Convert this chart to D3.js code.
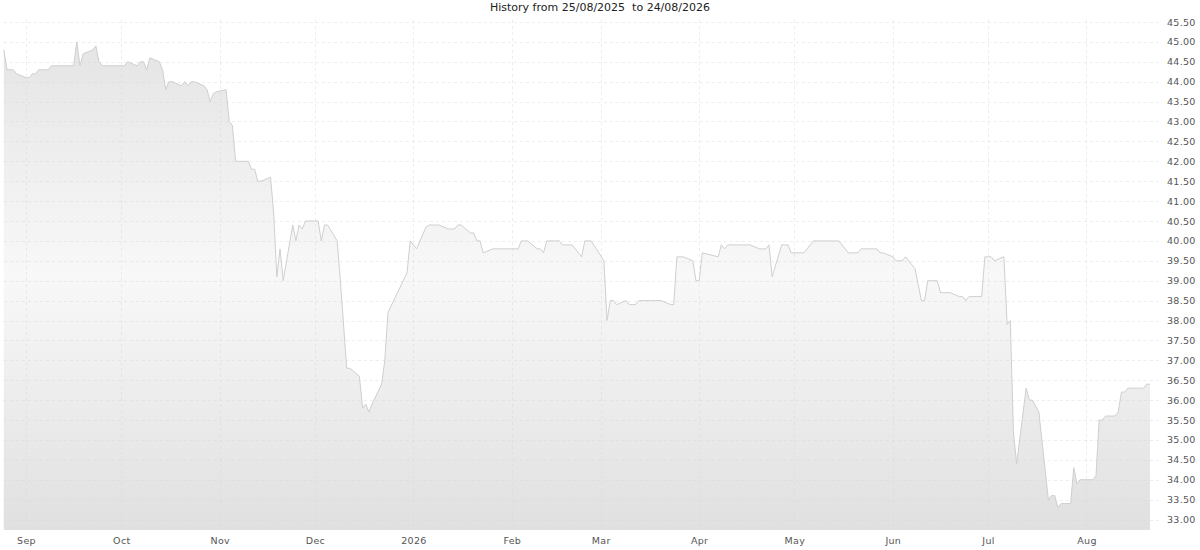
<!DOCTYPE html>
<html>
<head>
<meta charset="utf-8">
<script src="https://cdn.jsdelivr.net/npm/d3@7"></script>
<style>
  html, body { margin: 0; padding: 0; background: #fff; }
  svg { display: block; }
  text { font-family: "DejaVu Sans", Verdana, sans-serif; }
</style>
</head>
<body>
<svg id="chart" width="1200" height="550"></svg>
<script>
const titleText = "History from 25/08/2025  to 24/08/2026";
const domainStart = "2025-08-25";
const domainEnd = "2026-08-24";

const dates = [
  "2025-08-25","2025-08-26","2025-08-27","2025-08-28","2025-08-29",
  "2025-09-01","2025-09-02","2025-09-03","2025-09-04","2025-09-05",
  "2025-09-08","2025-09-09","2025-09-10","2025-09-11","2025-09-12",
  "2025-09-15","2025-09-16","2025-09-17","2025-09-18","2025-09-19",
  "2025-09-22","2025-09-23","2025-09-24","2025-09-25","2025-09-26",
  "2025-09-29","2025-09-30","2025-10-01","2025-10-02","2025-10-03",
  "2025-10-06","2025-10-07","2025-10-08","2025-10-09","2025-10-10",
  "2025-10-13","2025-10-14","2025-10-15","2025-10-16","2025-10-17",
  "2025-10-20","2025-10-21","2025-10-22","2025-10-23","2025-10-24",
  "2025-10-27","2025-10-28","2025-10-29","2025-10-30","2025-10-31",
  "2025-11-03","2025-11-04","2025-11-05","2025-11-06","2025-11-07",
  "2025-11-10","2025-11-11","2025-11-12","2025-11-13","2025-11-14",
  "2025-11-17","2025-11-18","2025-11-19","2025-11-20","2025-11-21",
  "2025-11-24","2025-11-25","2025-11-26","2025-11-27","2025-11-28",
  "2025-12-01","2025-12-02","2025-12-03","2025-12-04","2025-12-05",
  "2025-12-08","2025-12-09","2025-12-11","2025-12-12",
  "2025-12-15","2025-12-16","2025-12-17","2025-12-18","2025-12-19",
  "2025-12-22","2025-12-23","2025-12-24","2025-12-30","2025-12-31",
  "2026-01-02","2026-01-05","2026-01-06","2026-01-07","2026-01-08","2026-01-09",
  "2026-01-12","2026-01-13","2026-01-14","2026-01-15","2026-01-16",
  "2026-01-19","2026-01-20","2026-01-21","2026-01-22","2026-01-23",
  "2026-01-26","2026-01-27","2026-01-28","2026-01-29","2026-01-30",
  "2026-02-02","2026-02-03","2026-02-04","2026-02-05","2026-02-06",
  "2026-02-09","2026-02-10","2026-02-11","2026-02-12","2026-02-13",
  "2026-02-16","2026-02-17","2026-02-18","2026-02-19","2026-02-20",
  "2026-02-23","2026-02-24","2026-02-25","2026-02-26",
  "2026-03-02","2026-03-03","2026-03-04","2026-03-05","2026-03-06",
  "2026-03-09","2026-03-10","2026-03-11","2026-03-12","2026-03-13",
  "2026-03-16","2026-03-17","2026-03-18","2026-03-19","2026-03-20",
  "2026-03-23","2026-03-24","2026-03-25","2026-03-26","2026-03-27",
  "2026-03-30","2026-03-31","2026-04-01","2026-04-02",
  "2026-04-07","2026-04-08","2026-04-09","2026-04-10",
  "2026-04-13","2026-04-14","2026-04-15","2026-04-16","2026-04-17",
  "2026-04-20","2026-04-21","2026-04-22","2026-04-23","2026-04-24",
  "2026-04-27","2026-04-28","2026-04-29","2026-04-30",
  "2026-05-04","2026-05-07","2026-05-08",
  "2026-05-11","2026-05-12","2026-05-13","2026-05-14","2026-05-15",
  "2026-05-18","2026-05-19","2026-05-20","2026-05-21","2026-05-22",
  "2026-05-25","2026-05-26","2026-05-27","2026-05-28","2026-05-29",
  "2026-06-01","2026-06-02","2026-06-03","2026-06-04","2026-06-05",
  "2026-06-08","2026-06-10","2026-06-11","2026-06-12",
  "2026-06-15","2026-06-16","2026-06-17","2026-06-18","2026-06-19",
  "2026-06-22","2026-06-23","2026-06-24","2026-06-25","2026-06-26",
  "2026-06-29","2026-06-30","2026-07-01","2026-07-02","2026-07-03",
  "2026-07-06","2026-07-07","2026-07-08","2026-07-09","2026-07-10",
  "2026-07-13","2026-07-14","2026-07-15","2026-07-17",
  "2026-07-20","2026-07-21","2026-07-22","2026-07-23","2026-07-24",
  "2026-07-27","2026-07-28","2026-07-29","2026-07-30","2026-07-31",
  "2026-08-03","2026-08-04","2026-08-05","2026-08-06","2026-08-07",
  "2026-08-10","2026-08-11","2026-08-12","2026-08-13","2026-08-14",
  "2026-08-17","2026-08-18","2026-08-19","2026-08-20","2026-08-21"
];

const prices = [
  44.8, 44.3, 44.3, 44.3, 44.2,
  44.1, 44.1, 44.2, 44.2, 44.3,
  44.3, 44.4, 44.4, 44.4, 44.4,
  44.4, 44.4, 45.0, 44.4, 44.7,
  44.8, 44.9, 44.5, 44.4, 44.4,
  44.4, 44.4, 44.4, 44.4, 44.5,
  44.4, 44.5, 44.5, 44.3, 44.6,
  44.5, 44.3, 43.8, 44.0, 44.0,
  43.9, 44.0, 43.9, 44.0, 44.0,
  43.9, 43.8, 43.5, 43.7, 43.75,
  43.8, 43.0, 42.9, 42.0, 42.0,
  42.0, 41.8, 41.8, 41.5, 41.5,
  41.6, 40.7, 39.1, 39.8, 39.0,
  40.4, 40.0, 40.4, 40.3, 40.5,
  40.5, 40.5, 40.0, 40.4, 40.4,
  40.0, 39.0, 36.8, 36.8,
  36.6, 35.8, 35.9, 35.7, 35.9,
  36.4, 37.0, 38.2, 39.2, 40.0,
  39.8, 40.35, 40.4, 40.4, 40.4, 40.4,
  40.3, 40.3, 40.3, 40.4, 40.4,
  40.2, 40.2, 40.0, 40.0, 39.7,
  39.8, 39.8, 39.8, 39.8, 39.8,
  39.8, 39.8, 40.0, 40.0, 40.0,
  39.8, 39.8, 39.7, 40.0, 40.0,
  40.0, 39.9, 39.9, 39.9, 39.9,
  39.6, 40.0, 40.0, 40.0,
  39.5, 38.0, 38.5, 38.5, 38.4,
  38.5, 38.4, 38.4, 38.4, 38.5,
  38.5, 38.5, 38.5, 38.5, 38.5,
  38.4, 38.4, 39.6, 39.6, 39.6,
  39.5, 39.0, 39.0, 39.7,
  39.6, 39.9, 39.8, 39.9,
  39.9, 39.9, 39.9, 39.9, 39.9,
  39.8, 39.8, 39.8, 39.9, 39.1,
  39.9, 39.9, 39.9, 39.7,
  39.7, 40.0, 40.0,
  40.0, 40.0, 40.0, 40.0, 40.0,
  39.7, 39.7, 39.7, 39.7, 39.8,
  39.8, 39.8, 39.8, 39.7, 39.7,
  39.6, 39.5, 39.5, 39.5, 39.6,
  39.3, 38.5, 38.5, 39.0,
  39.0, 38.7, 38.7, 38.7, 38.7,
  38.6, 38.6, 38.5, 38.6, 38.6,
  38.6, 39.6, 39.6, 39.6, 39.5,
  39.6, 37.9, 38.0, 35.2, 34.4,
  36.3, 36.0, 36.0, 35.7,
  33.5, 33.6, 33.6, 33.3, 33.4,
  33.4, 34.3, 33.9, 34.0, 34.0,
  34.0, 34.1, 35.5, 35.5, 35.6,
  35.6, 35.7, 36.2, 36.2, 36.3,
  36.3, 36.3, 36.3, 36.4, 36.4
];

const yTickValues = [33.0, 33.5, 34.0, 34.5, 35.0, 35.5, 36.0, 36.5, 37.0, 37.5, 38.0, 38.5,
  39.0, 39.5, 40.0, 40.5, 41.0, 41.5, 42.0, 42.5, 43.0, 43.5, 44.0, 44.5, 45.0, 45.5];
const yTickLabels = ["33.00","33.50","34.00","34.50","35.00","35.50","36.00","36.50","37.00","37.50","38.00","38.50",
  "39.00","39.50","40.00","40.50","41.00","41.50","42.00","42.50","43.00","43.50","44.00","44.50","45.00","45.50"];
const monthLabels = ["Sep","Oct","Nov","Dec","2026","Feb","Mar","Apr","May","Jun","Jul","Aug"];

const parse = d3.timeParse("%Y-%m-%d");
const data = dates.map((d, i) => ({ date: parse(d), value: prices[i] }));

const svg = d3.select("#chart");
const plotLeft = 3.8, plotRight = 1159.5, plotTop = 22, plotBottom = 530;

const x = d3.scaleTime().domain([parse(domainStart), parse(domainEnd)]).range([plotLeft, plotRight]);
const y = d3.scaleLinear().domain([33, 45.5]).range([519.5, 22]);

const defs = svg.append("defs");
const grad = defs.append("linearGradient")
  .attr("id", "fillGrad").attr("gradientUnits", "userSpaceOnUse")
  .attr("x1", 0).attr("x2", 0).attr("y1", plotTop).attr("y2", plotBottom);
grad.append("stop").attr("offset", "0%").attr("stop-color", "#e3e3e3");
grad.append("stop").attr("offset", "50%").attr("stop-color", "#f8f8f8");
grad.append("stop").attr("offset", "100%").attr("stop-color", "#e0e0e0");

// area fill
const area = d3.area().x(d => x(d.date)).y0(plotBottom).y1(d => y(d.value));
svg.append("path").datum(data).attr("d", area).attr("fill", "url(#fillGrad)");

// gridlines
const monthTicks = x.ticks(d3.timeMonth.every(1)).filter(d => d > x.domain()[0]);
const grid = svg.append("g").attr("stroke", "#d6d6d6").attr("stroke-opacity", 0.45)
  .attr("stroke-dasharray", "3,3").attr("stroke-width", 1);
grid.selectAll("line.h").data(yTickValues).join("line")
  .attr("x1", plotLeft).attr("x2", plotRight)
  .attr("y1", d => Math.round(y(d)) + 0.5).attr("y2", d => Math.round(y(d)) + 0.5);
grid.selectAll("line.v").data(monthTicks).join("line")
  .attr("x1", d => Math.round(x(d)) + 0.5).attr("x2", d => Math.round(x(d)) + 0.5)
  .attr("y1", plotTop - 2).attr("y2", plotBottom);

// line
const line = d3.line().x(d => x(d.date)).y(d => y(d.value));
svg.append("path").datum(data).attr("d", line)
  .attr("fill", "none").attr("stroke", "#cfcfcf").attr("stroke-width", 1);

// y axis labels (right)
const yAxis = d3.axisRight(y).tickValues(yTickValues)
  .tickFormat((d, i) => yTickLabels[i]).tickSize(0).tickPadding(0);
const gy = svg.append("g").attr("transform", "translate(1167,0)").call(yAxis);
gy.select(".domain").remove();
gy.selectAll("text").attr("fill", "#555").style("font-size", "9.5px")
  .style("font-family", "'DejaVu Sans', sans-serif").style("letter-spacing", "0.3px");

// x axis labels
const xAxis = d3.axisBottom(x).tickValues(monthTicks)
  .tickFormat((d, i) => monthLabels[i]).tickSize(0).tickPadding(0);
const gx = svg.append("g").attr("transform", "translate(0,537)").call(xAxis);
gx.select(".domain").remove();
gx.selectAll("text").attr("fill", "#555").style("font-size", "9.5px")
  .style("font-family", "'DejaVu Sans', sans-serif").style("letter-spacing", "0.3px");

// title
svg.append("text").attr("x", 600).attr("y", 11).attr("text-anchor", "middle")
  .style("white-space", "pre").attr("xml:space", "preserve")
  .style("font-size", "11px").attr("fill", "#222").text(titleText);
</script>
</body>
</html>
